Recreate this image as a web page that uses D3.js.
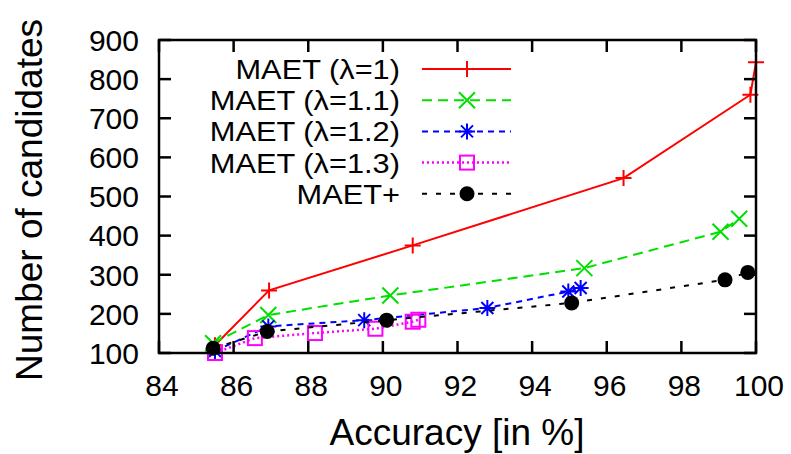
<!DOCTYPE html>
<html><head><meta charset="utf-8">
<script src="https://cdn.jsdelivr.net/npm/d3@7/dist/d3.min.js"></script>
<style>body{margin:0;background:#fff}svg text{font-family:"Liberation Sans",Arial,sans-serif;fill:#000}</style>
</head><body>
<svg id="c" width="791" height="454"></svg>
<script>
const xTicks = [84, 86, 88, 90, 92, 94, 96, 98, 100];
const yTicks = [100, 200, 300, 400, 500, 600, 700, 800, 900];
const seriesNames = ["MAET (λ=1)", "MAET (λ=1.1)", "MAET (λ=1.2)", "MAET (λ=1.3)", "MAET+"];
const accRed = [85.5, 86.95, 90.8, 96.45, 99.85, 100];
const candRed = [120, 260, 375, 547, 760, 843];
const accGreen = [85.45, 86.93, 90.2, 95.4, 99.05, 99.55];
const candGreen = [125, 197, 247, 317, 410, 443];
const accBlue = [85.5, 86.93, 89.5, 92.8, 94.97, 95.3];
const candBlue = [105, 168, 184, 215, 257, 266];
const accMagenta = [85.5, 86.57, 88.18, 89.8, 90.8, 90.95];
const candMagenta = [100, 138, 151, 162, 180, 185];
const accBlack = [85.45, 86.9, 90.1, 95.06, 99.17, 99.78];
const candBlack = [112, 155, 184, 228, 287, 306];

const series = [
  {name: seriesNames[0], xs: accRed, ys: candRed, color: "#ff0000", dash: null, marker: "plus"},
  {name: seriesNames[1], xs: accGreen, ys: candGreen, color: "#00e000", dash: "10,6", marker: "cross"},
  {name: seriesNames[2], xs: accBlue, ys: candBlue, color: "#0000ff", dash: "6,5", marker: "star"},
  {name: seriesNames[3], xs: accMagenta, ys: candMagenta, color: "#ff00ff", dash: "2,3", marker: "square"},
  {name: seriesNames[4], xs: accBlack, ys: candBlack, color: "#000000", dash: "5,9", marker: "circle"}
];

const L = 159, R = 756, T = 40, B = 353;
const x = d3.scaleLinear().domain([84, 100]).range([L, R]);
const y = d3.scaleLinear().domain([100, 900]).range([B, T]);
const svg = d3.select("#c");

const plot = svg.append("g");

function drawMarker(g, type, cx, cy, color) {
  const s = 8;
  if (type === "plus") {
    g.append("path").attr("d", `M${cx-s},${cy}H${cx+s}M${cx},${cy-s}V${cy+s}`).attr("stroke", color).attr("stroke-width", 2).attr("fill", "none");
  } else if (type === "cross") {
    g.append("path").attr("d", `M${cx-s},${cy-s}L${cx+s},${cy+s}M${cx-s},${cy+s}L${cx+s},${cy-s}`).attr("stroke", color).attr("stroke-width", 2).attr("fill", "none");
  } else if (type === "star") {
    g.append("path").attr("d", `M${cx-s},${cy}H${cx+s}M${cx},${cy-s}V${cy+s}M${cx-s*0.75},${cy-s*0.75}L${cx+s*0.75},${cy+s*0.75}M${cx-s*0.75},${cy+s*0.75}L${cx+s*0.75},${cy-s*0.75}`).attr("stroke", color).attr("stroke-width", 2).attr("fill", "none");
  } else if (type === "square") {
    g.append("rect").attr("x", cx-7).attr("y", cy-7).attr("width", 14).attr("height", 14).attr("stroke", color).attr("stroke-width", 2).attr("fill", "none");
  } else if (type === "circle") {
    g.append("circle").attr("cx", cx).attr("cy", cy).attr("r", 7.5).attr("fill", color);
  }
}

const line = d3.line().x(d => x(d[0])).y(d => y(d[1]));
const legX2 = 400, legL1 = 422, legL2 = 511, legM = 467;
const legY0 = 69, legDy = 31.2;

series.forEach((s, i) => {
  const g = plot.append("g");
  const pts = s.xs.map((v, j) => [v, s.ys[j]]);
  const ly = legY0 + i * legDy;
  svg.append("g").attr("transform", `translate(${legX2},${ly}) scale(1.12,1)`)
     .append("text").attr("x", 0).attr("y", 0).attr("dy", "0.36em").attr("text-anchor", "end")
     .attr("font-size", 27.5).text(s.name);
  const lp = g.append("path").attr("d", `M${legL1},${ly}H${legL2}`).attr("stroke", s.color).attr("stroke-width", s.marker === "square" ? 2.5 : 2).attr("fill", "none");
  if (s.dash) lp.attr("stroke-dasharray", s.dash);
  drawMarker(g, s.marker, legM, ly, s.color);
  const p = g.append("path").datum(pts).attr("d", line).attr("stroke", s.color).attr("stroke-width", s.marker === "square" ? 2.5 : 2).attr("fill", "none");
  if (s.dash) p.attr("stroke-dasharray", s.dash);
  pts.forEach(d => drawMarker(g, s.marker, x(d[0]), y(d[1]), s.color));
});

const tk = 12;
const axes = svg.append("g").attr("stroke", "#000").attr("stroke-width", 2.5);
xTicks.forEach(t => {
  axes.append("line").attr("x1", x(t)).attr("x2", x(t)).attr("y1", B).attr("y2", B - tk);
  axes.append("line").attr("x1", x(t)).attr("x2", x(t)).attr("y1", T).attr("y2", T + tk);
});
yTicks.forEach(t => {
  axes.append("line").attr("x1", L).attr("x2", L + tk).attr("y1", y(t)).attr("y2", y(t));
  axes.append("line").attr("x1", R).attr("x2", R - tk).attr("y1", y(t)).attr("y2", y(t));
});
axes.append("rect").attr("x", L).attr("y", T).attr("width", R - L).attr("height", B - T).attr("fill", "none");

xTicks.forEach(t => {
  svg.append("text").attr("x", x(t) + 3).attr("y", 396).attr("text-anchor", "middle").attr("font-size", 30).text(t);
});
yTicks.forEach(t => {
  svg.append("text").attr("x", 139).attr("y", y(t)).attr("dy", "0.36em").attr("text-anchor", "end").attr("font-size", 30).text(t);
});

svg.append("text").attr("x", 457).attr("y", 445).attr("text-anchor", "middle").attr("font-size", 37).text("Accuracy [in %]");
svg.append("text").attr("transform", "translate(42,200) rotate(-90)").attr("text-anchor", "middle").attr("font-size", 37).text("Number of candidates");
</script>
</body></html>
